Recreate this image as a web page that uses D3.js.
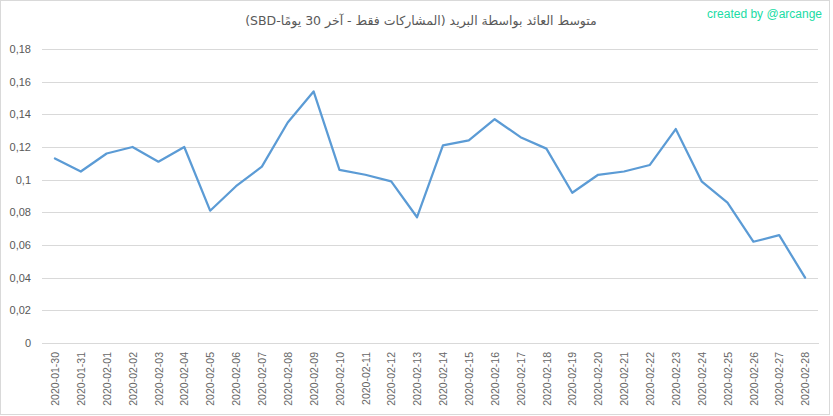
<!DOCTYPE html>
<html>
<head>
<meta charset="utf-8">
<script src="https://cdn.jsdelivr.net/npm/d3@7/dist/d3.min.js"></script>
<style>
  html, body { margin: 0; padding: 0; background: #ffffff; }
  svg { display: block; }
</style>
</head>
<body>
<svg id="chart" width="833" height="416"></svg>
<script>
const titleText = "متوسط العائد بواسطة البريد (المشاركات فقط - آخر 30 يومًا-SBD)";
const creditText = "created by @arcange";

const dates = [
  "2020-01-30","2020-01-31","2020-02-01","2020-02-02","2020-02-03","2020-02-04",
  "2020-02-05","2020-02-06","2020-02-07","2020-02-08","2020-02-09","2020-02-10",
  "2020-02-11","2020-02-12","2020-02-13","2020-02-14","2020-02-15","2020-02-16",
  "2020-02-17","2020-02-18","2020-02-19","2020-02-20","2020-02-21","2020-02-22",
  "2020-02-23","2020-02-24","2020-02-25","2020-02-26","2020-02-27","2020-02-28"
];

const avgReward = [
  0.113, 0.105, 0.116, 0.120, 0.111, 0.120,
  0.081, 0.096, 0.108, 0.135, 0.154, 0.106,
  0.103, 0.099, 0.077, 0.121, 0.124, 0.137,
  0.126, 0.119, 0.092, 0.103, 0.105, 0.109,
  0.131, 0.099, 0.086, 0.062, 0.066, 0.040
];

const yTicks = [0, 0.02, 0.04, 0.06, 0.08, 0.1, 0.12, 0.14, 0.16, 0.18];

const svg = d3.select("#chart");
const plot = { left: 42, right: 818, top: 49, bottom: 343 };

// chart border
svg.append("rect")
  .attr("x", 0.5).attr("y", 0.5)
  .attr("width", 829).attr("height", 414)
  .attr("fill", "#ffffff")
  .attr("stroke", "#d9d9d9")
  .attr("stroke-width", 1);

const x = d3.scalePoint()
  .domain(dates)
  .range([plot.left, plot.right])
  .padding(0.5);

const y = d3.scaleLinear()
  .domain([0, 0.18])
  .range([plot.bottom, plot.top]);

const fmt = v => String(+v.toFixed(2)).replace(".", ",");

// gridlines via axis
const yGrid = svg.append("g")
  .attr("transform", `translate(${plot.left},0)`)
  .call(d3.axisRight(y).tickValues(yTicks).tickSize(plot.right - plot.left).tickFormat(""));
yGrid.select(".domain").remove();
yGrid.selectAll("line")
  .attr("stroke", "#d9d9d9")
  .attr("stroke-width", 1)
  .attr("shape-rendering", "crispEdges");

// y axis labels
const yAxis = svg.append("g")
  .attr("transform", `translate(${plot.left},0)`)
  .call(d3.axisLeft(y).tickValues(yTicks).tickSize(0).tickPadding(11).tickFormat(fmt));
yAxis.select(".domain").remove();
yAxis.selectAll("text")
  .attr("fill", "#595959")
  .style("font-family", "'Liberation Sans', Arial, sans-serif")
  .style("font-size", "11px");

// x axis labels
const xAxis = svg.append("g")
  .attr("transform", `translate(0,${plot.bottom})`)
  .call(d3.axisBottom(x).tickSize(0).tickPadding(0));
xAxis.select(".domain")
  .attr("stroke", "#d9d9d9")
  .attr("shape-rendering", "crispEdges");
xAxis.selectAll("text")
  .attr("fill", "#666666")
  .style("font-family", "'Liberation Sans', Arial, sans-serif")
  .style("font-size", "10.5px")
  .attr("transform", "rotate(-90)")
  .attr("x", -9)
  .attr("y", 0)
  .attr("dy", "0.35em")
  .attr("text-anchor", "end");

// line
const line = d3.line()
  .x((d, i) => x(dates[i]))
  .y(d => y(d));

svg.append("path")
  .datum(avgReward)
  .attr("d", line)
  .attr("fill", "none")
  .attr("stroke", "#5b9bd5")
  .attr("stroke-width", 2.25)
  .attr("stroke-linejoin", "round")
  .attr("stroke-linecap", "round");

// title
svg.append("text")
  .attr("x", 421)
  .attr("y", 25)
  .attr("text-anchor", "middle")
  .attr("direction", "rtl")
  .style("direction", "rtl")
  .style("unicode-bidi", "embed")
  .attr("fill", "#595959")
  .style("font-family", "'DejaVu Sans', sans-serif")
  .style("font-size", "12.5px")
  .text(titleText);

// credit
svg.append("text")
  .attr("x", 822)
  .attr("y", 18)
  .attr("text-anchor", "end")
  .attr("fill", "#20dca4")
  .style("font-family", "'Liberation Sans', Arial, sans-serif")
  .style("font-size", "12px")
  .text(creditText);
</script>
</body>
</html>
